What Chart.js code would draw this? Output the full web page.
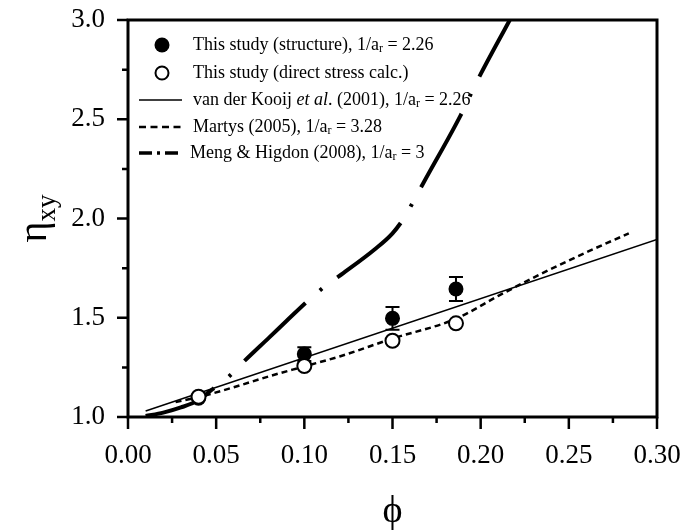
<!DOCTYPE html>
<html>
<head>
<meta charset="utf-8">
<script src="https://cdn.jsdelivr.net/npm/chart.js@4/dist/chart.umd.min.js"></script>
<style>
  html, body { margin: 0; padding: 0; background: #fff; }
  canvas { display: block; }
</style>
</head>
<body>
<canvas id="c" width="686" height="531" style="width:686px;height:531px"></canvas>
<script>
// ---------- data ----------
const xTickValues = [0.00, 0.05, 0.10, 0.15, 0.20, 0.25, 0.30];
const xTickLabels = ['0.00', '0.05', '0.10', '0.15', '0.20', '0.25', '0.30'];
const yTickValues = [1.0, 1.5, 2.0, 2.5, 3.0];
const yTickLabels = ['1.0', '1.5', '2.0', '2.5', '3.0'];

const structPhi = [0.04, 0.10, 0.15, 0.186];
const structEta = [1.095, 1.317, 1.497, 1.645];
const structErr = [0.0, 0.035, 0.057, 0.06];

const directPhi = [0.04, 0.10, 0.15, 0.186];
const directEta = [1.102, 1.257, 1.384, 1.472];

const kooijPhi = [0.01, 0.30];
const kooijEta = [1.03, 1.895];

const martysPhi = [0.027, 0.04, 0.06, 0.08, 0.10, 0.12, 0.15, 0.186, 0.21, 0.234, 0.26, 0.284];
const martysEta = [1.075, 1.10, 1.15, 1.205, 1.255, 1.305, 1.395, 1.495, 1.61, 1.72, 1.83, 1.925];

const mengPhi = [0.01, 0.02, 0.03, 0.04, 0.0465, 0.0565, 0.066, 0.08, 0.09, 0.1036, 0.1126, 0.1221, 0.14, 0.15, 0.1567, 0.1624, 0.1679, 0.1887, 0.1978, 0.2165];
const mengEta = [1.005, 1.022, 1.048, 1.085, 1.13, 1.198, 1.282, 1.40, 1.485, 1.598, 1.665, 1.725, 1.845, 1.925, 2.005, 2.095, 2.185, 2.521, 2.689, 3.0];

// ---------- helpers ----------
const pts = (xs, ys) => xs.map((x, i) => ({ x: x, y: ys[i] }));
const SERIF = "'Liberation Serif', 'DejaVu Serif', serif";
const AREA = { left: 128, top: 20, right: 657, bottom: 417 };

const decorPlugin = {
  id: 'decor',
  beforeDatasetsDraw(chart) {
    const ctx = chart.ctx, xs = chart.scales.x, ys = chart.scales.y;
    ctx.save();
    ctx.strokeStyle = '#000';
    ctx.lineWidth = 2;
    structPhi.forEach((p, i) => {
      const e = structErr[i];
      if (!e) return;
      const px = xs.getPixelForValue(p);
      const pt = ys.getPixelForValue(structEta[i] + e);
      const pb = ys.getPixelForValue(structEta[i] - e);
      ctx.beginPath();
      ctx.moveTo(px, pt); ctx.lineTo(px, pb);
      ctx.moveTo(px - 7, pt); ctx.lineTo(px + 7, pt);
      ctx.moveTo(px - 7, pb); ctx.lineTo(px + 7, pb);
      ctx.stroke();
    });
    ctx.restore();
  },
  afterDraw(chart) {
    const ctx = chart.ctx, a = chart.chartArea, xs = chart.scales.x, ys = chart.scales.y;
    ctx.save();
    // frame
    ctx.strokeStyle = '#000';
    ctx.lineWidth = 3;
    ctx.strokeRect(a.left, a.top, a.right - a.left, a.bottom - a.top);
    // ticks (major + minor midpoints)
    ctx.lineWidth = 2.5;
    ctx.beginPath();
    xTickValues.forEach((v, i) => {
      const px = xs.getPixelForValue(v);
      ctx.moveTo(px, a.bottom); ctx.lineTo(px, a.bottom + 12);
      if (i < xTickValues.length - 1) {
        const pm = xs.getPixelForValue((v + xTickValues[i + 1]) / 2);
        ctx.moveTo(pm, a.bottom); ctx.lineTo(pm, a.bottom + 6);
      }
    });
    yTickValues.forEach((v, i) => {
      const py = ys.getPixelForValue(v);
      ctx.moveTo(a.left, py); ctx.lineTo(a.left - 11, py);
      if (i < yTickValues.length - 1) {
        const pm = ys.getPixelForValue((v + yTickValues[i + 1]) / 2);
        ctx.moveTo(a.left, pm); ctx.lineTo(a.left - 6, pm);
      }
    });
    ctx.stroke();

    // axis titles
    ctx.fillStyle = '#000';
    ctx.textBaseline = 'alphabetic';
    ctx.textAlign = 'left';
    // x title
    ctx.font = '38px ' + SERIF;
    const phiW = ctx.measureText('\u03D5').width;
    ctx.fillText('\u03D5', (a.left + a.right) / 2 - phiW / 2, 522);
    // y title (rotated)
    ctx.save();
    ctx.translate(46, (a.top + a.bottom) / 2);
    ctx.rotate(-Math.PI / 2);
    ctx.font = '40px ' + SERIF;
    const etaW = ctx.measureText('\u03B7').width;
    ctx.font = '27px ' + SERIF;
    const subW = ctx.measureText('xy').width;
    const x0 = -(etaW + subW) / 2;
    ctx.font = '40px ' + SERIF;
    ctx.fillText('\u03B7', x0, 0);
    ctx.font = '27px ' + SERIF;
    ctx.fillText('xy', x0 + etaW, 9);
    ctx.restore();

    // legend
    const fs = 18;
    const drawParts = (parts, x, y) => {
      parts.forEach(p => {
        const t = p[0], kind = p[1] || 'n';
        if (kind === 'sub') {
          ctx.font = Math.round(fs * 0.65) + 'px ' + SERIF;
          ctx.fillText(t, x, y + 4);
        } else if (kind === 'i') {
          ctx.font = 'italic ' + fs + 'px ' + SERIF;
          ctx.fillText(t, x, y);
        } else {
          ctx.font = fs + 'px ' + SERIF;
          ctx.fillText(t, x, y);
        }
        x += ctx.measureText(t).width;
      });
    };
    const rows = [
      { sym: 'filled', y: 45, tx: 193, parts: [['This study (structure), 1/a'], ['r', 'sub'], [' = 2.26']] },
      { sym: 'open', y: 73, tx: 193, parts: [['This study (direct stress calc.)']] },
      { sym: 'solid', y: 100, tx: 193, parts: [['van der Kooij '], ['et al', 'i'], ['. (2001), 1/a'], ['r', 'sub'], [' = 2.26']] },
      { sym: 'dash', y: 127, tx: 193, parts: [['Martys (2005), 1/a'], ['r', 'sub'], [' = 3.28']] },
      { sym: 'dashdot', y: 153, tx: 190, parts: [['Meng & Higdon (2008), 1/a'], ['r', 'sub'], [' = 3']] }
    ];
    ctx.textBaseline = 'middle';
    rows.forEach(r => {
      ctx.save();
      ctx.strokeStyle = '#000';
      ctx.fillStyle = '#000';
      if (r.sym === 'filled') {
        ctx.beginPath(); ctx.arc(162, r.y, 7.5, 0, Math.PI * 2); ctx.fill();
      } else if (r.sym === 'open') {
        ctx.lineWidth = 2;
        ctx.beginPath(); ctx.arc(162, r.y, 6.5, 0, Math.PI * 2);
        ctx.fillStyle = '#fff'; ctx.fill(); ctx.stroke();
      } else {
        ctx.beginPath();
        if (r.sym === 'solid') { ctx.lineWidth = 1.5; ctx.setLineDash([]); }
        if (r.sym === 'dash') { ctx.lineWidth = 2.5; ctx.setLineDash([7, 4.5]); }
        if (r.sym === 'dashdot') { ctx.lineWidth = 3.5; ctx.setLineDash([13, 5, 3, 5]); }
        ctx.moveTo(139, r.y); ctx.lineTo(182, r.y); ctx.stroke();
      }
      ctx.restore();
      ctx.fillStyle = '#000';
      drawParts(r.parts, r.tx, r.y);
    });
    ctx.restore();
  }
};

const zeroPad = s => { s.paddingLeft = 0; s.paddingRight = 0; s.paddingTop = 0; s.paddingBottom = 0; };

const chart = new Chart(document.getElementById('c'), {
  type: 'scatter',
  data: {
    datasets: [
      {
        label: 'This study (direct stress calc.)',
        data: pts(directPhi, directEta),
        pointRadius: 7, pointBorderWidth: 2,
        pointBackgroundColor: '#fff', pointBorderColor: '#000',
        showLine: false, order: 1
      },
      {
        label: 'This study (structure)',
        data: pts(structPhi, structEta),
        pointRadius: 7.5, pointBorderWidth: 0,
        pointBackgroundColor: '#000', pointBorderColor: '#000',
        showLine: false, order: 2
      },
      {
        label: 'van der Kooij et al. (2001)',
        data: pts(kooijPhi, kooijEta),
        showLine: true, pointRadius: 0, borderColor: '#000', borderWidth: 1.5,
        tension: 0, order: 3
      },
      {
        label: 'Martys (2005)',
        data: pts(martysPhi, martysEta),
        showLine: true, pointRadius: 0, borderColor: '#000', borderWidth: 2.5,
        borderDash: [6, 4], cubicInterpolationMode: 'monotone', order: 4
      },
      {
        label: 'Meng & Higdon (2008)',
        data: pts(mengPhi, mengEta),
        showLine: true, pointRadius: 0, borderColor: '#000', borderWidth: 4,
        borderDash: [84, 19, 3, 19], borderDashOffset: 9,
        cubicInterpolationMode: 'monotone', order: 5
      }
    ]
  },
  options: {
    responsive: false,
    animation: false,
    events: [],
    layout: { padding: { top: 20, right: 29, left: 0, bottom: 0 } },
    plugins: { legend: { display: false }, tooltip: { enabled: false } },
    scales: {
      x: {
        type: 'linear', min: 0, max: 0.3,
        afterFit(s) { s.height = 114; zeroPad(s); },
        afterBuildTicks(s) { s.ticks = xTickValues.map(v => ({ value: v })); },
        ticks: {
          callback: (v, i) => xTickLabels[i],
          font: { family: SERIF, size: 27 }, color: '#000',
          padding: 23, maxRotation: 0, autoSkip: false
        },
        grid: { display: false, drawTicks: false },
        border: { display: false }
      },
      y: {
        type: 'linear', min: 1, max: 3,
        afterFit(s) { s.width = 128; zeroPad(s); },
        afterBuildTicks(s) { s.ticks = yTickValues.map(v => ({ value: v })); },
        ticks: {
          callback: (v, i) => yTickLabels[i],
          font: { family: SERIF, size: 27 }, color: '#000',
          padding: 23, autoSkip: false
        },
        grid: { display: false, drawTicks: false },
        border: { display: false }
      }
    }
  },
  plugins: [decorPlugin]
});

// make the plot area land exactly where the reference has it
(function fixArea() {
  const ca = chart.chartArea;
  const p = chart.options.layout.padding;
  p.top += AREA.top - ca.top;
  p.left += AREA.left - ca.left;
  p.right += ca.right - AREA.right;
  p.bottom += ca.bottom - AREA.bottom;
  chart.update();
})();
</script>
</body>
</html>
